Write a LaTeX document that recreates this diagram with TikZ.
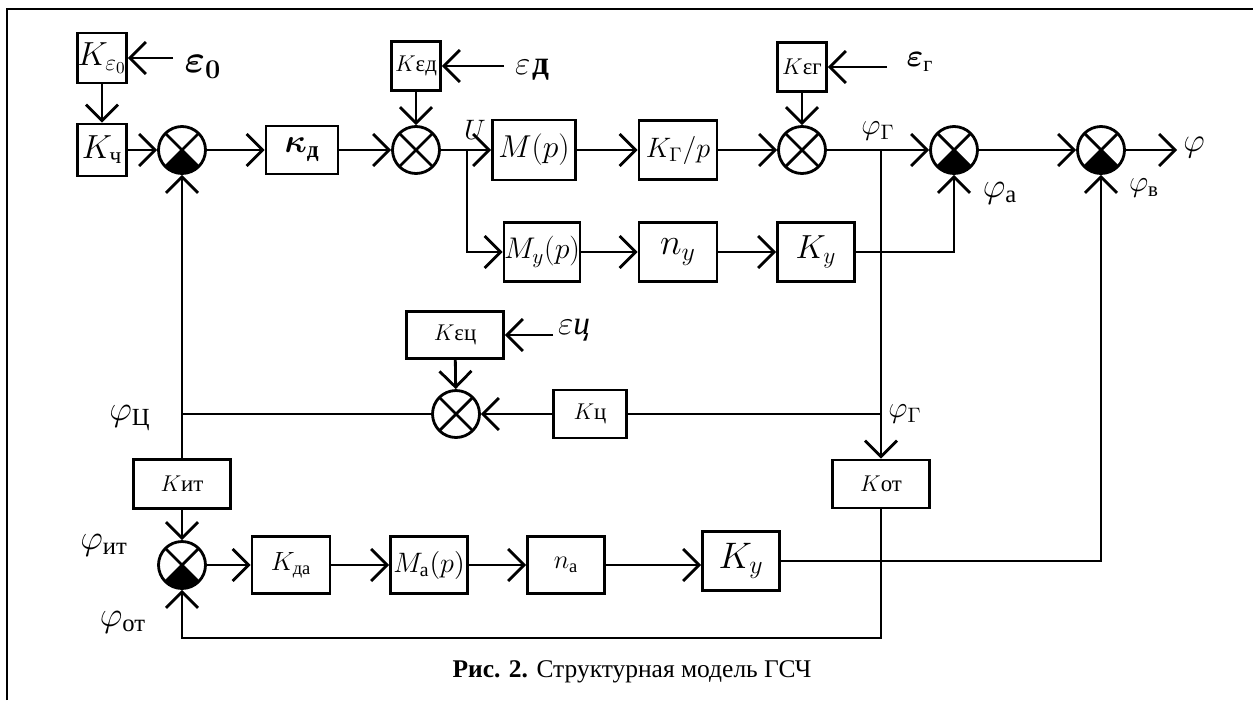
\RequirePackage{fix-cm}
\documentclass[tikz,border=0pt]{standalone}
\usepackage{amsmath}
\usepackage{fontspec}
\setmainfont{Liberation Serif}
\usetikzlibrary{arrows.meta}

\begin{document}
\begin{tikzpicture}[x=0.02cm, y=-0.02cm, line width=1.6pt, >={Straight Barb[length=0.32cm, width=0.64cm]}]
    % 通用样式
    \tikzstyle{node_block} = [draw, rectangle, inner sep=0pt, minimum width=1.56cm, minimum height=1.18cm, font=\fontsize{18}{20}\selectfont]
    \tikzstyle{node_sum} = [circle, draw, inner sep=0pt, minimum size=0.94cm, path picture={
        \draw (path picture bounding box.north west) -- (path picture bounding box.south east)
              (path picture bounding box.north east) -- (path picture bounding box.south west);}]
    \tikzstyle{node_sumf} = [circle, draw, inner sep=0pt, minimum size=0.94cm, path picture={
        \fill (path picture bounding box.center) -- (path picture bounding box.south west)
              -- (path picture bounding box.south east) -- cycle;
        \draw (path picture bounding box.north west) -- (path picture bounding box.south east)
              (path picture bounding box.north east) -- (path picture bounding box.south west);}]
    \tikzstyle{arrow_sig} = [->]
    \tikzstyle{line_sig} = [-]
    \tikzstyle{label_sig} = [inner sep=0pt, font=\fontsize{19}{22}\selectfont]

    \useasboundingbox (0,0) rectangle (1253,700);
    % 外框
    \draw[line width=1.2pt] (7,700) -- (7,9) -- (1253,9);

    % ================= 上行 =================
    \node[node_block, minimum width=0.98cm, minimum height=1.0cm, font=\fontsize{19}{21}\selectfont] (ke0) at (102,58) {$K_{\varepsilon_0}$};
    \node[node_block, minimum width=0.98cm, minimum height=1.04cm, font=\fontsize{19}{21}\selectfont] (kch) at (102,150) {$K_{\text{ч}}$};
    \node[node_sumf] (s1) at (182,150) {};
    \node[node_block, minimum width=1.44cm, minimum height=0.96cm, font=\fontsize{19}{21}\selectfont\boldmath] (kd) at (302,150) {$\kappa_{\text{\bfseries д}}$};
    \node[node_sum] (s2) at (416,150) {};
    \node[node_block, minimum width=0.98cm, minimum height=0.98cm, font=\fontsize{13}{15}\selectfont] (ked) at (416,66) {$K$εд};
    \node[node_block, minimum width=1.66cm, minimum height=1.2cm] (mp) at (534,150) {$M(p)$};
    \node[node_block, font=\fontsize{16}{18}\selectfont] (kgp) at (678,150) {$K_\Gamma/p$};
    \node[node_sum] (s3) at (802,150) {};
    \node[node_block, minimum width=0.98cm, minimum height=0.98cm, font=\fontsize{13}{15}\selectfont] (keg) at (802,67) {$K$εг};
    \node[node_sumf] (s4) at (954,150) {};
    \node[node_sumf] (s5) at (1101,150) {};

    % ================= 中行 =================
    \node[node_block, minimum width=1.52cm, font=\fontsize{17}{19}\selectfont] (myp) at (542,252) {$M_y(p)$};
    \node[node_block, font=\fontsize{21}{24}\selectfont] (ny) at (678,252) {$n_y$};
    \node[node_block, minimum width=1.54cm, font=\fontsize{19}{21}\selectfont] (ky) at (816,252) {$K_y$};

    % ================= 回路 =================
    \node[node_block, minimum width=1.94cm, minimum height=0.94cm, font=\fontsize{13}{15}\selectfont] (kec) at (455,335) {$K$εц};
    \node[node_sum] (s6) at (456,414) {};
    \node[node_block, minimum width=1.46cm, minimum height=0.96cm, font=\fontsize{13}{15}\selectfont] (kc) at (590,414) {$K$ц};
    \node[node_block, minimum width=1.94cm, minimum height=0.98cm, font=\fontsize{13}{15}\selectfont] (kit) at (182,484) {$K$ит};
    \node[node_block, minimum width=1.94cm, minimum height=0.96cm, font=\fontsize{13}{15}\selectfont] (kot) at (881,484) {$K$от};

    % ================= 下行 =================
    \node[node_sumf] (s7) at (182,565) {};
    \node[node_block, minimum height=1.14cm, font=\fontsize{15}{17}\selectfont] (kda) at (291,565) {$K_{\text{да}}$};
    \node[node_block, minimum width=1.54cm, minimum height=1.14cm, font=\fontsize{16}{18}\selectfont] (ma) at (429,565) {$M_{\text{а}}(p)$};
    \node[node_block, minimum width=1.54cm, minimum height=1.14cm, font=\fontsize{15}{17}\selectfont] (na) at (566,565) {$n_{\text{а}}$};
    \node[node_block, minimum width=1.54cm, font=\fontsize{21}{24}\selectfont] (kyb) at (741,561) {$K_y$};

    % 外部输入与分支点
    \coordinate (e0in) at (173,58);
    \coordinate (edin) at (504,66);
    \coordinate (egin) at (887,67);
    \coordinate (ecin) at (553,335);
    \coordinate (bru) at (467,150);
    \coordinate (brg) at (881,150);
    \coordinate (brg2) at (881,414);
    \coordinate (brc) at (182,414);
    \coordinate (fbb) at (881,638);
    \coordinate (out) at (1177,150);

    % 标签
    \node[font=\boldmath\fontsize{22}{26}\selectfont] (le0) at (203,67) {$\varepsilon_0$};
    \node[label_sig] (led) at (532,70) {$\varepsilon$\kern1pt\textbf{д}};
    \node[label_sig, font=\fontsize{18}{20}\selectfont] (leg) at (920,62) {$\boldsymbol{\varepsilon}_{\text{г}}$};
    \node[label_sig] (lec) at (574,330) {$\varepsilon$\textit{ц}};
    \node[label_sig, font=\fontsize{16}{18}\selectfont] (lu) at (475,130) {$U$};
    \node[label_sig, font=\fontsize{17}{19}\selectfont] (lpg) at (878,131) {$\varphi_\Gamma$};
    \node[label_sig, font=\fontsize{20}{23}\selectfont] (lpa) at (1000,193) {$\varphi_{\text{а}}$};
    \node[label_sig] (lp) at (1194,148) {$\varphi$};
    \node[label_sig, font=\fontsize{17}{19}\selectfont] (lpv) at (1144,188) {$\varphi_{\text{в}}$};
    \node[label_sig, font=\fontsize{20}{23}\selectfont] (lpc) at (130,418) {$\varphi_{\text{Ц}}$};
    \node[label_sig, font=\fontsize{17}{19}\selectfont] (lpg2) at (905,414) {$\varphi_\Gamma$};
    \node[label_sig, font=\fontsize{20}{23}\selectfont] (lpit) at (104,545) {$\varphi_{\text{ит}}$};
    \node[label_sig, font=\fontsize{20}{23}\selectfont] (lpot) at (123,622) {$\varphi_{\text{от}}$};

    % 连线
    \draw[arrow_sig] (e0in) -- (ke0);
    \draw[arrow_sig] (ke0) -- (kch);
    \foreach \a/\b in {kch/s1, s1/kd, kd/s2, s2/mp, mp/kgp, kgp/s3, s3/s4, s4/s5} {
        \draw[arrow_sig] (\a) -- (\b);
    }
    \draw[arrow_sig] (edin) -- (ked);
    \draw[arrow_sig] (ked) -- (s2);
    \draw[arrow_sig] (egin) -- (keg);
    \draw[arrow_sig] (keg) -- (s3);
    \draw[arrow_sig] (s5) -- (out);
    \draw[arrow_sig] (bru) |- (myp);
    \foreach \a/\b in {myp/ny, ny/ky} {
        \draw[arrow_sig] (\a) -- (\b);
    }
    \draw[arrow_sig] (ky) -| (s4);
    \draw[arrow_sig] (brg) -- (kot);
    \draw[line_sig] (brg2) -- (kc);
    \draw[arrow_sig] (kc) -- (s6);
    \draw[arrow_sig] (ecin) -- (kec);
    \draw[arrow_sig] (kec) -- (s6);
    \draw[line_sig] (s6) -- (brc);
    \draw[arrow_sig] (brc) -- (s1);
    \draw[line_sig] (brc) -- (kit);
    \draw[arrow_sig] (kit) -- (s7);
    \foreach \a/\b in {s7/kda, kda/ma, ma/na} {
        \draw[arrow_sig] (\a) -- (\b);
    }
    \draw[arrow_sig] (na) -- (na -| kyb.west);
    \draw[arrow_sig] (kyb) -| (s5);
    \draw[arrow_sig] (kot) -- (fbb) -| (s7);

    % 图题
    \node[font=\fontsize{14.5}{17}\selectfont] (cap) at (632,672) {\textbf{Рис. 2.} Структурная модель ГСЧ};
\end{tikzpicture}
\end{document}
